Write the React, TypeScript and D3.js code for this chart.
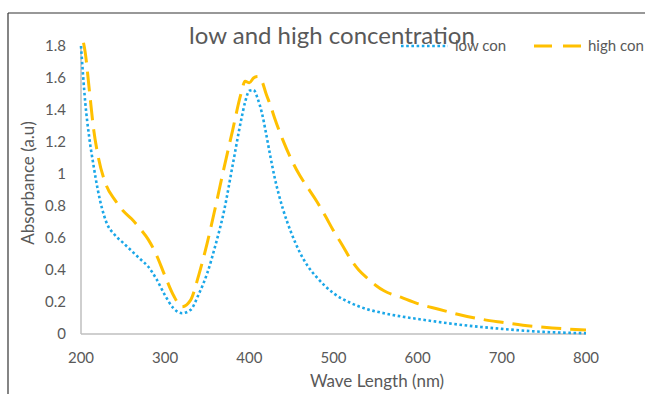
import React from "react";
import * as d3 from "d3";

const lowWave = [200,205,210,215,220,230,240,250,260,270,280,290,300,310,320,330,340,350,360,370,380,390,395,400,405,410,415,420,425,430,440,450,460,470,480,490,500,520,540,560,580,600,625,650,675,700,750,800];
const lowCon = [1.80,1.45,1.22,1.05,0.90,0.70,0.62,0.57,0.52,0.47,0.42,0.34,0.24,0.16,0.13,0.15,0.25,0.38,0.56,0.77,1.05,1.33,1.45,1.52,1.525,1.47,1.38,1.25,1.11,0.98,0.78,0.63,0.51,0.42,0.355,0.30,0.255,0.195,0.155,0.13,0.11,0.094,0.075,0.058,0.044,0.032,0.013,0.005];

const highWave = [203,205,210,215,220,230,240,250,260,270,280,290,300,310,320,330,340,350,360,370,380,390,395,400,405,410,415,420,425,430,440,450,460,470,480,490,500,510,520,530,540,550,560,580,600,625,650,675,700,725,750,800];
const highCon = [1.82,1.76,1.52,1.28,1.12,0.93,0.84,0.77,0.72,0.66,0.59,0.49,0.36,0.24,0.17,0.21,0.37,0.57,0.80,1.04,1.27,1.50,1.58,1.57,1.60,1.61,1.58,1.50,1.43,1.35,1.21,1.09,0.99,0.91,0.83,0.74,0.645,0.56,0.47,0.40,0.35,0.305,0.27,0.23,0.19,0.155,0.12,0.093,0.073,0.055,0.042,0.025];

const xTicks = [200,300,400,500,600,700,800];
const yTicks = [0,0.2,0.4,0.6,0.8,1,1.2,1.4,1.6,1.8];

const FONT = "Lato, 'Open Sans', sans-serif";
const TXT = "#595959";

export default function App() {
  const x = d3.scaleLinear().domain([200, 800]).range([81, 586]);
  const y = d3.scaleLinear().domain([0, 1.8]).range([334, 46]);
  const line = d3
    .line<[number, number]>()
    .x((d) => x(d[0]))
    .y((d) => y(d[1]))
    .curve(d3.curveMonotoneX);
  const lowPath = line(lowWave.map((w, i) => [w, lowCon[i]]) as [number, number][]) || "";
  const highPath = line(highWave.map((w, i) => [w, highCon[i]]) as [number, number][]) || "";

  return (
    <svg
      width={645}
      height={394}
      style={{ position: "absolute", left: 0, top: 0, background: "#fff" }}
      fontFamily={FONT}
    >
      <rect x={0} y={0} width={645} height={394} fill="#fff" />
      <line x1={8} y1={13} x2={645} y2={13} stroke="#333" strokeWidth={1.2} />
      <line x1={8} y1={13} x2={8} y2={394} stroke="#333" strokeWidth={1.2} />

      {/* axes */}
      <line x1={x(200)} y1={y(0)} x2={x(800)} y2={y(0)} stroke="#BFBFBF" strokeWidth={1.5} />
      <line x1={x(200)} y1={y(0)} x2={x(200)} y2={y(1.8)} stroke="#BFBFBF" strokeWidth={1.5} />

      {yTicks.map((t) => (
        <text key={t} x={66} y={y(t)} dy="0.35em" textAnchor="end" fontSize={15} fill={TXT}>
          {t}
        </text>
      ))}
      {xTicks.map((t) => (
        <text key={t} x={x(t)} y={358} dy="0.35em" textAnchor="middle" fontSize={15} fill={TXT}>
          {t}
        </text>
      ))}

      <text x={377} y={381} dy="0.35em" textAnchor="middle" fontSize={17} fill={TXT}>
        Wave Length (nm)
      </text>
      <text
        transform={`translate(28,183) rotate(-90)`}
        dy="0.35em"
        textAnchor="middle"
        fontSize={17}
        fill={TXT}
      >
        Absorbance (a.u)
      </text>

      <text x={332} y={36} dy="0.35em" textAnchor="middle" fontSize={24} fill={TXT}>
        low and high concentration
      </text>

      {/* series */}
      <path d={highPath} fill="none" stroke="#FFC000" strokeWidth={3} strokeDasharray="20 9" />
      <path d={lowPath} fill="none" stroke="#1AA7E8" strokeWidth={2.6} strokeDasharray="2.6 2.6" />

      {/* legend */}
      <line x1={401} y1={46} x2={448} y2={46} stroke="#1AA7E8" strokeWidth={2.6} strokeDasharray="2.6 2.6" />
      <text x={455} y={46} dy="0.35em" fontSize={15} fill={TXT}>low con</text>
      <line x1={534} y1={46} x2={583} y2={46} stroke="#FFC000" strokeWidth={3} strokeDasharray="18 11" />
      <text x={588} y={46} dy="0.35em" fontSize={15} fill={TXT}>high con</text>
    </svg>
  );
}
